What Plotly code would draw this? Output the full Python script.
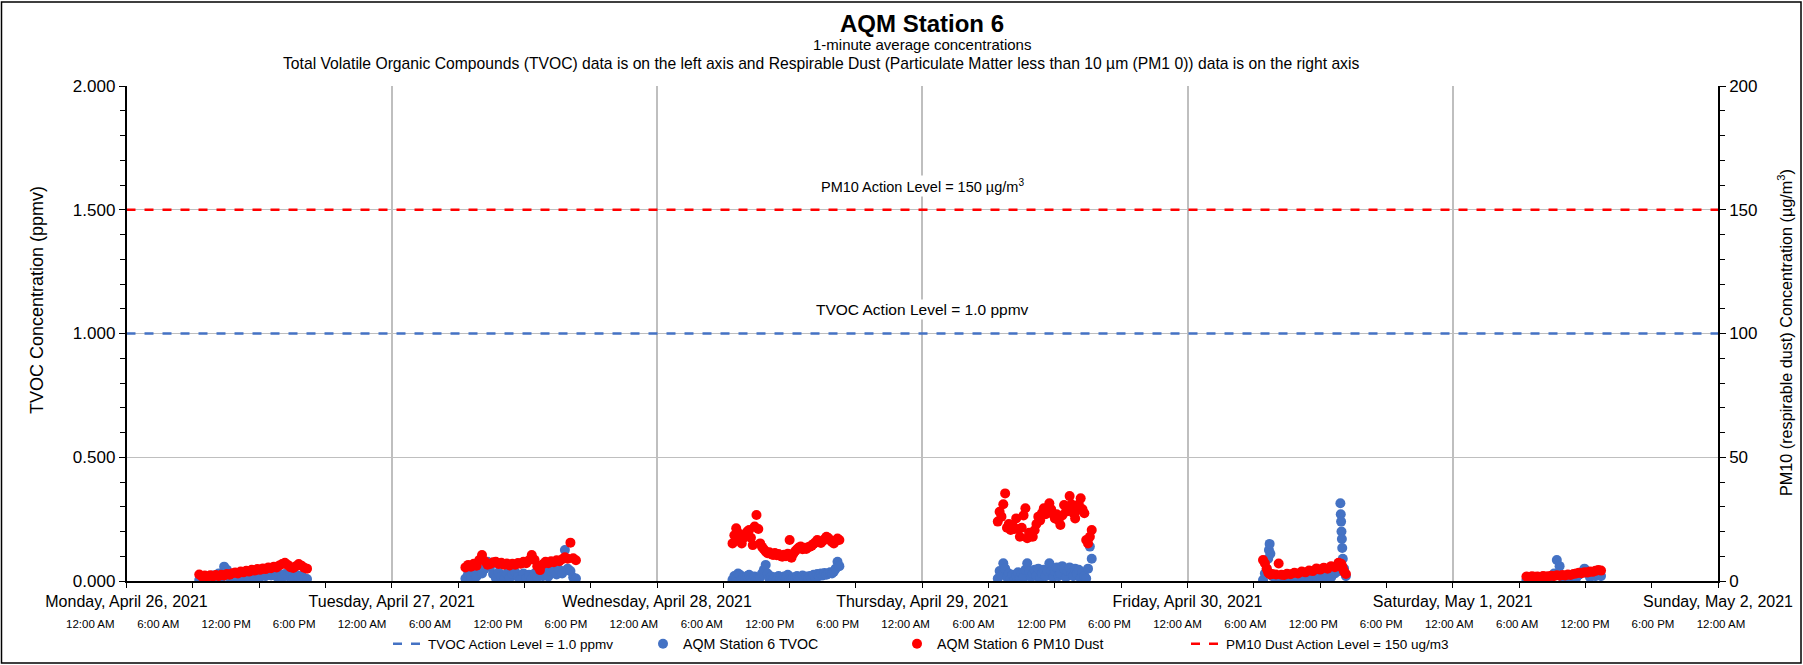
import plotly.graph_objects as go
import pandas as pd

# ---------------- data ----------------
DAY_LABELS = ["Monday, April 26, 2021", "Tuesday, April 27, 2021", "Wednesday, April 28, 2021",
              "Thursday, April 29, 2021", "Friday, April 30, 2021", "Saturday, May 1, 2021",
              "Sunday, May 2, 2021"]
DAY_DATES = ["2021-04-26", "2021-04-27", "2021-04-28", "2021-04-29", "2021-04-30", "2021-05-01", "2021-05-02"]
HOUR_LABELS = ["12:00 AM", "6:00 AM", "12:00 PM", "6:00 PM"]

TVOC_ACTION = 1.0     # ppmv
PM10_ACTION = 150     # ug/m3

# Monday: readings every 15 min from 06:35
MON_START, MON_STEP = "2021-04-26 06:35", "15min"
MON_TVOC = [0.004, 0.012, 0.006, 0.018, 0.008, 0.022, 0.010, 0.030, 0.012, 0.058,
            0.045, 0.015, 0.006, 0.016, 0.008, 0.020, 0.010, 0.022, 0.012, 0.024,
            0.014, 0.028, 0.016, 0.030, 0.020, 0.032, 0.022, 0.030, 0.018, 0.026,
            0.014, 0.028, 0.020, 0.030, 0.012, 0.025, 0.018, 0.022, 0.010, 0.008]
MON_PM10 = [2.6, 1.8, 2.2, 1.7, 2.3, 1.9, 2.4, 2.0, 2.5, 2.2,
            2.8, 2.5, 3.1, 3.4, 3.0, 3.8, 3.5, 4.1, 3.8, 4.5,
            4.2, 4.8, 4.5, 5.1, 4.8, 5.5, 5.2, 5.8, 5.5, 6.3,
            6.9, 7.4, 6.5, 5.6, 5.3, 6.0, 6.9, 6.2, 5.4, 5.0]

# Tuesday: every 15 min from 06:40
TUE_START, TUE_STEP = "2021-04-27 06:40", "15min"
TUE_TVOC = [0.010, 0.030, 0.012, 0.035, 0.018, 0.045, 0.030, 0.050, 0.078, 0.060,
            0.028, 0.012, 0.035, 0.018, 0.008, 0.030, 0.012, 0.028, 0.036, 0.016,
            0.008, 0.030, 0.012, 0.025, 0.010, 0.030, 0.015, 0.040, 0.020, 0.045,
            0.018, 0.040, 0.046, 0.026, 0.045, 0.030, 0.125, 0.050, 0.040, 0.014, 0.010]
TUE_PM10 = [5.5, 6.5, 5.8, 7.0, 6.2, 8.5, 10.5, 8.0, 6.6, 6.9,
            7.6, 7.8, 6.9, 7.4, 6.6, 7.1, 6.3, 7.0, 6.6, 7.3,
            7.0, 7.8, 7.2, 8.4, 10.5, 8.6, 6.0, 4.4, 6.8, 7.8,
            7.2, 8.0, 7.6, 8.4, 8.0, 8.8, 9.6, 9.0, 15.5, 9.2, 8.4]

# Wednesday: every 10 min from 06:50
WED_START, WED_STEP = "2021-04-28 06:50", "10min"
WED_TVOC = [0.005, 0.020, 0.010, 0.030, 0.025, 0.008, 0.015, 0.005, 0.020, 0.025,
            0.010, 0.005, 0.018, 0.010, 0.005, 0.015, 0.030, 0.045, 0.065, 0.030,
            0.010, 0.018, 0.008, 0.015, 0.005, 0.020, 0.010, 0.005, 0.018, 0.010,
            0.025, 0.008, 0.005, 0.015, 0.010, 0.020, 0.008, 0.015, 0.022, 0.010,
            0.018, 0.008, 0.020, 0.012, 0.025, 0.015, 0.028, 0.020, 0.030, 0.022,
            0.032, 0.025, 0.030, 0.035, 0.030, 0.038, 0.050, 0.078, 0.060]
WED_PM10 = [15.2, 18.5, 21.3, 19.5, 17.0, 15.2, 17.5, 19.0, 20.0, 20.6,
            17.5, 14.5, 22.0, 26.7, 21.0, 15.2, 13.8, 12.8, 11.9, 11.2,
            11.6, 10.8, 10.5, 11.3, 10.4, 10.9, 10.1, 9.8, 10.6, 10.0,
            11.0, 16.6, 9.4, 11.0, 12.0, 12.8, 13.5, 13.9, 12.8, 13.4,
            12.9, 13.6, 13.9, 14.3, 15.0, 15.6, 16.6, 15.8, 15.4, 16.2,
            17.0, 17.9, 17.4, 16.5, 15.8, 15.2, 16.2, 17.2, 16.6]

# Thursday: every 10 min from 06:50
THU_START, THU_STEP = "2021-04-29 06:50", "10min"
THU_TVOC = [0.010, 0.040, 0.025, 0.072, 0.050, 0.015, 0.030, 0.010, 0.025, 0.005,
            0.020, 0.035, 0.010, 0.030, 0.015, 0.045, 0.072, 0.040, 0.015, 0.030,
            0.045, 0.020, 0.050, 0.010, 0.030, 0.045, 0.020, 0.040, 0.072, 0.040,
            0.015, 0.040, 0.055, 0.020, 0.030, 0.060, 0.050, 0.015, 0.040, 0.055,
            0.030, 0.020, 0.050, 0.030, 0.045, 0.010, 0.035, 0.020, 0.010, 0.050,
            0.139, 0.090]
THU_PM10 = [24.0, 28.0, 26.0, 31.0, 35.4, 21.5, 23.0, 20.6, 22.5, 21.0,
            25.3, 21.0, 17.9, 21.5, 26.5, 29.4, 17.3, 19.5, 18.0, 17.9,
            20.5, 23.0, 26.0, 24.5, 27.5, 29.4, 27.0, 29.5, 31.4, 29.0,
            27.0, 25.3, 27.0, 24.5, 22.6, 26.5, 30.7, 28.0, 29.5, 34.3,
            31.0, 27.5, 25.3, 28.5, 31.0, 33.4, 29.0, 27.4, 16.6, 15.2,
            17.9, 20.6]

# Friday: irregular readings (bursts around 07:20 and 13:50)
FRI_TIMES = ["06:50", "07:00", "07:10", "07:18", "07:22", "07:26", "07:30", "07:40", "08:00", "08:15",
             "08:30", "08:45", "09:00", "09:20", "09:40", "10:00", "10:20", "10:40", "11:00", "11:20",
             "11:40", "12:00", "12:20", "12:40", "13:00", "13:20", "13:40", "13:50", "13:52", "13:54",
             "13:56", "13:58", "14:00", "14:03", "14:10", "14:20"]
FRI_TVOC = [0.004, 0.030, 0.050, 0.090, 0.125, 0.150, 0.110, 0.020, 0.008, 0.015,
            0.005, 0.012, 0.020, 0.008, 0.015, 0.005, 0.018, 0.010, 0.020, 0.008,
            0.015, 0.022, 0.010, 0.025, 0.015, 0.030, 0.040, 0.314, 0.270, 0.240,
            0.200, 0.170, 0.133, 0.090, 0.050, 0.020]
FRI_PM10 = [8.5, 7.2, 5.0, 3.5, 3.1, 2.9, 2.6, 2.8, 2.6, 7.1,
            2.5, 2.4, 2.9, 2.7, 3.3, 3.0, 3.8, 3.5, 4.2, 4.0,
            5.1, 4.6, 5.4, 5.0, 6.0, 5.6, 7.4, 6.5, 6.8, 7.0,
            6.4, 6.0, 5.5, 5.0, 3.8, 2.8]

# Saturday: every 15 min from 06:40
SAT_START, SAT_STEP = "2021-05-01 06:40", "15min"
SAT_TVOC = [0.005, 0.010, 0.004, 0.012, 0.006, 0.015, 0.008, 0.012, 0.006, 0.018,
            0.030, 0.085, 0.060, 0.015, 0.005, 0.015, 0.010, 0.020, 0.012, 0.025,
            0.035, 0.050, 0.030, 0.015, 0.025, 0.020, 0.030, 0.020]
SAT_PM10 = [1.8, 1.6, 1.9, 1.7, 1.8, 1.6, 2.0, 1.8, 1.9, 2.1,
            2.0, 2.3, 2.1, 2.4, 2.2, 2.6, 2.4, 2.8, 3.0, 3.3,
            3.1, 3.5, 3.4, 3.8, 3.7, 4.1, 4.4, 4.2]

# ---------------- assemble ----------------
tv_x, tv_y, pm_x, pm_y = [], [], [], []
for start, step, tv, pm in [(MON_START, MON_STEP, MON_TVOC, MON_PM10),
                            (TUE_START, TUE_STEP, TUE_TVOC, TUE_PM10),
                            (WED_START, WED_STEP, WED_TVOC, WED_PM10),
                            (THU_START, THU_STEP, THU_TVOC, THU_PM10)]:
    tv_x += list(pd.date_range(start, periods=len(tv), freq=step))
    tv_y += tv
    pm_x += list(pd.date_range(start, periods=len(pm), freq=step))
    pm_y += pm
fri_x = [pd.Timestamp(f"2021-04-30 {t}") for t in FRI_TIMES]
tv_x += fri_x[:len(FRI_TVOC)]
tv_y += FRI_TVOC[:len(fri_x)]
pm_x += fri_x[:len(FRI_PM10)]
pm_y += FRI_PM10[:len(fri_x)]
tv_x += list(pd.date_range(SAT_START, periods=len(SAT_TVOC), freq=SAT_STEP))
tv_y += SAT_TVOC
pm_x += list(pd.date_range(SAT_START, periods=len(SAT_PM10), freq=SAT_STEP))
pm_y += SAT_PM10

x_start = pd.Timestamp(DAY_DATES[0])
x_end = pd.Timestamp(DAY_DATES[-1])
hour_ticks = pd.date_range(x_start, x_end, freq="6h")
hour_text = [HOUR_LABELS[i % 4] for i in range(len(hour_ticks))]
one_hour = pd.Timedelta(hours=1)

BLUE = "#4472C4"
RED = "#FF0000"
FONT = "Liberation Sans, Arial, sans-serif"

# ---------------- page geometry (pixels) ----------------
W, H = 1803, 665
ML, MR, MT, MB = 60, 40, 86, 84
PLOT_L, PLOT_R = 126.5, 1718          # plot area left/right in pixels
HOUR_L, HOUR_R = 79.0, 1732.3         # span of the hour-label row
pw, ph = W - ML - MR, H - MT - MB


def px(pix):
    return (pix - ML) / pw


def py(pix):
    return (H - MB - pix) / ph


fig = go.Figure()
fig.add_trace(go.Scatter(x=[x_start, x_end], y=[TVOC_ACTION, TVOC_ACTION], mode="lines",
                         line=dict(color=BLUE, width=2.5, dash="dash"),
                         name="TVOC Action Level = 1.0 ppmv", xaxis="x", yaxis="y", legend="legend"))
fig.add_trace(go.Scatter(x=tv_x, y=tv_y, mode="markers",
                         marker=dict(color=BLUE, size=10), name="AQM Station 6 TVOC",
                         xaxis="x", yaxis="y", legend="legend2"))
fig.add_trace(go.Scatter(x=pm_x, y=pm_y, mode="markers",
                         marker=dict(color=RED, size=10), name="AQM Station 6 PM10 Dust",
                         xaxis="x", yaxis="y2", legend="legend3"))
fig.add_trace(go.Scatter(x=[x_start, x_end], y=[PM10_ACTION, PM10_ACTION], mode="lines",
                         line=dict(color=RED, width=2.5, dash="dash"),
                         name="PM10 Dust Action Level = 150 ug/m3", xaxis="x", yaxis="y2",
                         legend="legend4"))
# helper trace so the hour-label axis is drawn
fig.add_trace(go.Scatter(x=[x_start, x_end], y=[None, None], mode="markers", showlegend=False,
                         hoverinfo="skip", xaxis="x2", yaxis="y3"))

LEG_Y = py(644)


def leg(text_start_pix, size=13.5):
    return dict(orientation="h", x=px(text_start_pix - 40), xanchor="left", y=LEG_Y, yanchor="middle",
                font=dict(size=size, family=FONT), bgcolor="rgba(0,0,0,0)")


fig.update_layout(
    width=W, height=H,
    margin=dict(l=ML, r=MR, t=MT, b=MB, pad=0, autoexpand=False),
    paper_bgcolor="white", plot_bgcolor="rgba(0,0,0,0)",
    font=dict(family=FONT, color="black"),
    showlegend=True,
    legend=leg(428), legend2=leg(683, 14.2), legend3=leg(937, 14.2), legend4=leg(1226),
    xaxis=dict(type="date", range=[x_start, x_end], domain=[px(PLOT_L), px(PLOT_R)], anchor="y",
               tickmode="array",
               tickvals=[pd.Timestamp(d) for d in DAY_DATES], ticktext=DAY_LABELS,
               tickfont=dict(size=16), ticks="outside", ticklen=5, tickcolor="black",
               showline=True, linecolor="black", linewidth=1.5,
               showgrid=True, gridcolor="#BFBFBF", gridwidth=1.5, zeroline=False,
               minor=dict(dtick=6 * 3600 * 1000, ticks="outside", ticklen=5, tickcolor="black",
                          showgrid=False),
               ticklabelstandoff=0),
    xaxis2=dict(type="date", range=[x_start - one_hour, x_end + one_hour],
                domain=[px(HOUR_L), px(HOUR_R)], anchor="y3", side="bottom",
                tickmode="array", tickvals=list(hour_ticks), ticktext=hour_text,
                tickfont=dict(size=11.5), ticks="", showline=False, showgrid=False, zeroline=False,
                ticklabelstandoff=34),
    yaxis3=dict(range=[0, 1], domain=[0, 1], anchor="x2", visible=False),
    yaxis=dict(range=[0, 2.0], dtick=0.5, tickformat=".3f", tickfont=dict(size=17), anchor="x",
               ticks="outside", ticklen=6, tickcolor="black",
               showline=True, linecolor="black", linewidth=1.5,
               showgrid=True, gridcolor="#BFBFBF", gridwidth=1, zeroline=False,
               minor=dict(dtick=0.1, ticks="outside", ticklen=5, tickcolor="black", showgrid=False)),
    yaxis2=dict(range=[0, 200], dtick=50, overlaying="y", side="right", anchor="x",
                tickfont=dict(size=17), ticks="outside", ticklen=6, tickcolor="black",
                showline=True, linecolor="black", linewidth=1.5,
                showgrid=False, zeroline=False,
                minor=dict(dtick=10, ticks="outside", ticklen=5, tickcolor="black", showgrid=False)),
)

# axis titles
fig.add_annotation(text="TVOC Concentration (ppmv)", xref="paper", yref="paper", x=px(37), y=py(300),
                   xanchor="center", yanchor="middle", textangle=-90, showarrow=False, font=dict(size=18))
fig.add_annotation(text="PM10 (respirable dust) Concentration (µg/m<sup>3</sup>)", xref="paper", yref="paper",
                   x=px(1785), y=py(333), xanchor="center", yanchor="middle", textangle=-90,
                   showarrow=False, font=dict(size=16.2))

# titles
fig.add_annotation(text="<b>AQM Station 6</b>", xref="paper", yref="paper", x=px(922), y=py(23),
                   xanchor="center", yanchor="middle", showarrow=False, font=dict(size=24))
fig.add_annotation(text="1-minute average concentrations", xref="paper", yref="paper", x=px(922), y=py(45),
                   xanchor="center", yanchor="middle", showarrow=False, font=dict(size=15))
fig.add_annotation(text="Total Volatile Organic Compounds (TVOC) data is on the left axis and Respirable Dust "
                        "(Particulate Matter less than 10 µm (PM1 0)) data is on the right axis",
                   xref="paper", yref="paper", x=px(821), y=py(64),
                   xanchor="center", yanchor="middle", showarrow=False, font=dict(size=15.7))

# action level labels
fig.add_annotation(text="PM10 Action Level = 150 µg/m<sup>3</sup>", x=pd.Timestamp(DAY_DATES[3]), y=PM10_ACTION,
                   xref="x", yref="y2", yshift=24, showarrow=False, bgcolor="white",
                   font=dict(size=14.5))
fig.add_annotation(text="TVOC Action Level = 1.0 ppmv", x=pd.Timestamp(DAY_DATES[3]), y=TVOC_ACTION,
                   xref="x", yref="y", yshift=24, showarrow=False, bgcolor="white",
                   font=dict(size=15.5))

# outer chart border
fig.add_shape(type="rect", xref="paper", yref="paper", x0=px(1.5), x1=px(1801), y0=py(663), y1=py(2),
              line=dict(color="black", width=1.5), fillcolor="rgba(0,0,0,0)", layer="below")

fig.write_html("out.html", config={"displayModeBar": False},
               post_script="document.body.style.margin='0';document.body.style.overflow='hidden';")
